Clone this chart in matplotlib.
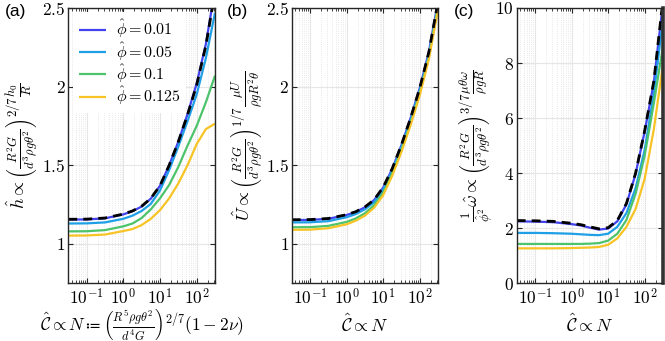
import numpy as np
import matplotlib
matplotlib.use("Agg")
import matplotlib.pyplot as plt
from matplotlib.ticker import FixedLocator, FixedFormatter, LogLocator, NullFormatter

plt.rcParams['mathtext.fontset'] = 'cm'
plt.rcParams['font.family'] = ['Liberation Sans', 'DejaVu Sans']

# ---- data ----
logN = [-1.5, -1.0, -0.5, 0.0, 0.25, 0.5, 0.75, 1.0, 1.25, 1.5, 1.75, 2.0, 2.25, 2.5]
phi_labels = [r'$\hat{\phi} = 0.01$', r'$\hat{\phi} = 0.05$', r'$\hat{\phi} = 0.1$', r'$\hat{\phi} = 0.125$']

# panel (a): h-hat
h_limit = [1.157, 1.158, 1.165, 1.19, 1.21, 1.24, 1.29, 1.37, 1.50, 1.65, 1.82, 2.01, 2.26, 2.60]
h_001 = [1.155, 1.156, 1.163, 1.188, 1.208, 1.238, 1.288, 1.37, 1.50, 1.65, 1.825, 2.02, 2.27, 2.62]
h_005 = [1.130, 1.131, 1.137, 1.16, 1.18, 1.21, 1.255, 1.34, 1.47, 1.62, 1.78, 1.95, 2.18, 2.47]
h_010 = [1.080, 1.081, 1.088, 1.112, 1.13, 1.165, 1.22, 1.29, 1.375, 1.49, 1.625, 1.75, 1.90, 2.07]
h_0125 = [1.053, 1.054, 1.06, 1.082, 1.095, 1.12, 1.16, 1.215, 1.29, 1.385, 1.50, 1.635, 1.73, 1.765]

# panel (b): U-hat
U_limit = [1.154, 1.155, 1.162, 1.186, 1.205, 1.235, 1.28, 1.36, 1.48, 1.63, 1.80, 1.99, 2.22, 2.54]
U_001 = [1.152, 1.153, 1.160, 1.184, 1.203, 1.233, 1.278, 1.358, 1.478, 1.628, 1.80, 1.99, 2.22, 2.54]
U_005 = [1.137, 1.138, 1.145, 1.17, 1.19, 1.22, 1.265, 1.345, 1.465, 1.615, 1.785, 1.975, 2.20, 2.52]
U_010 = [1.106, 1.107, 1.115, 1.14, 1.162, 1.195, 1.245, 1.325, 1.45, 1.60, 1.77, 1.96, 2.19, 2.51]
U_0125 = [1.090, 1.091, 1.10, 1.125, 1.148, 1.18, 1.23, 1.31, 1.435, 1.585, 1.755, 1.945, 2.175, 2.49]

# panel (c): omega-hat / phi^2
w_limit = [2.28, 2.27, 2.25, 2.18, 2.13, 2.05, 1.98, 2.02, 2.28, 2.90, 4.00, 5.55, 7.35, 10.3]
w_001 = [2.25, 2.24, 2.22, 2.15, 2.10, 2.02, 1.95, 1.99, 2.25, 2.87, 3.97, 5.52, 7.30, 10.2]
w_005 = [1.83, 1.83, 1.82, 1.80, 1.78, 1.76, 1.75, 1.80, 2.05, 2.55, 3.45, 4.85, 6.90, 9.6]
w_010 = [1.43, 1.43, 1.43, 1.43, 1.43, 1.44, 1.46, 1.55, 1.80, 2.30, 3.25, 4.65, 6.55, 8.6]
w_0125 = [1.27, 1.27, 1.27, 1.28, 1.29, 1.30, 1.32, 1.40, 1.63, 2.05, 2.70, 3.80, 5.60, 7.95]

colors = ['#4141ED', '#1E9FE6', '#4DC36B', '#F7C325']

N = 10.0 ** np.array(logN)

fig = plt.figure(figsize=(6.65, 3.41), dpi=100)
W, H = 665.0, 341.0
def axpos(x0, x1, y0, y1):
    return [x0 / W, 1 - y1 / H, (x1 - x0) / W, (y1 - y0) / H]

ax_a = fig.add_axes(axpos(68.3, 215.0, 8.0, 283.3))
ax_b = fig.add_axes(axpos(291.7, 438.0, 8.0, 283.3))
ax_c = fig.add_axes(axpos(516.7, 663.0, 8.0, 283.3))

panels = [
    (ax_a, h_limit, [h_001, h_005, h_010, h_0125], (0.75, 2.5), [1, 1.5, 2, 2.5], ['$1$', '$1.5$', '$2$', '$2.5$'],
     r'$\hat{h} \propto \left(\frac{R^2 G}{d^3 \rho g \theta^2}\right)^{2/7} \frac{h_0}{R}$',
     r'$\hat{\mathcal{C}} \propto N \coloneq \left(\frac{R^5 \rho g \theta^2}{d^4 G}\right)^{2/7} (1 - 2\nu)$',
     '(a)', 5, -0.32, -0.148, 12.5),
    (ax_b, U_limit, [U_001, U_005, U_010, U_0125], (0.75, 2.5), [1, 1.5, 2, 2.5], ['$1$', '$1.5$', '$2$', '$2.5$'],
     r'$\hat{U} \propto \left(\frac{R^2 G}{d^3 \rho g \theta^2}\right)^{1/7} \frac{\mu U}{\rho g R^2 \theta}$',
     r'$\hat{\mathcal{C}} \propto N$', '(b)', 227, -0.305, -0.151, 13),
    (ax_c, w_limit, [w_001, w_005, w_010, w_0125], (0, 10), [0, 2, 4, 6, 8, 10], ['$0$', '$2$', '$4$', '$6$', '$8$', '$10$'],
     r'$\frac{1}{\hat{\phi}^2}\hat{\omega} \propto \left(\frac{R^2 G}{d^3 \rho g \theta^2}\right)^{3/7} \frac{\mu \theta \omega}{\rho g R}$',
     r'$\hat{\mathcal{C}} \propto N$', '(c)', 454, -0.277, -0.151, 13),
]

xt = [0.1, 1, 10, 100]
xtl = ['$10^{-1}$', '$10^{0}$', '$10^{1}$', '$10^{2}$']

for ax, lim, series, ylim, yt, ytl, ylab, xlab, tag, tagx, ylx, xly, xlfs in panels:
    for s, c, lab in zip(series, colors, phi_labels):
        ax.plot(N, s, color=c, lw=1.6, label=lab, solid_capstyle='butt')
    ax.plot(N, lim, color='k', lw=2.0, ls=(0, (3.2, 2.2)))
    ax.set_xscale('log')
    ax.set_xlim(10 ** -1.5, 10 ** 2.5)
    ax.set_ylim(*ylim)
    ax.xaxis.set_major_locator(FixedLocator(xt))
    ax.xaxis.set_major_formatter(FixedFormatter(xtl))
    ax.xaxis.set_minor_locator(LogLocator(base=10, subs=np.arange(2, 10), numticks=20))
    ax.xaxis.set_minor_formatter(NullFormatter())
    ax.yaxis.set_major_locator(FixedLocator(yt))
    ax.yaxis.set_major_formatter(FixedFormatter(ytl))
    ax.tick_params(which='both', direction='in', top=True, right=True, labelsize=12.5, color='#262626')
    ax.tick_params(axis='y', pad=2)
    ax.tick_params(axis='x', pad=3)
    ax.tick_params(which='major', length=3.5, width=0.8)
    ax.tick_params(which='minor', length=2.0, width=0.6)
    ax.grid(True, which='major', color='#e6e6e6', lw=0.8)
    ax.grid(True, which='minor', axis='x', color='#e0e0e0', lw=0.6, ls=':')
    ax.set_axisbelow(True)
    for sp in ax.spines.values():
        sp.set_linewidth(1.0)
        sp.set_color('#262626')
    yl = ax.set_ylabel(ylab, fontsize=13)
    ax.yaxis.set_label_coords(ylx, 0.5)
    yl.set_ha('center')
    yl.set_va('center')
    xl = ax.set_xlabel(xlab, fontsize=xlfs)
    ax.xaxis.set_label_coords(0.5, xly)
    xl.set_va('center')
    fig.text(tagx / W, 1 - 4 / H, tag, fontsize=12.5, ha='left', va='top')

ax_c.spines['right'].set_linewidth(2.6)
ax_c.spines['right'].set_color('#333333')

leg = ax_a.legend(loc='upper left', bbox_to_anchor=(0.035, 0.985), frameon=True, fontsize=11.5,
                  handlelength=1.7, handletextpad=0.6, labelspacing=0.0, borderpad=0.35,
                  borderaxespad=0.0)
leg.get_frame().set_edgecolor('none')
leg.get_frame().set_facecolor('white')
leg.get_frame().set_alpha(1.0)

fig.savefig('out.png', dpi=100)
